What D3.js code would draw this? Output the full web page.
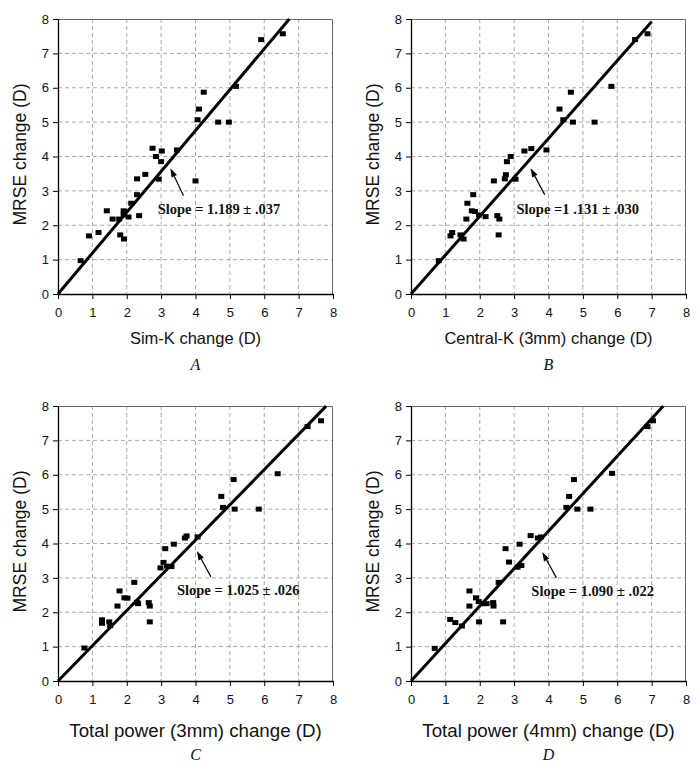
<!DOCTYPE html>
<html>
<head>
<meta charset="utf-8">
<script src="https://cdn.jsdelivr.net/npm/d3@7"></script>
<style>
  html, body { margin: 0; padding: 0; background: #fff; }
  svg { display: block; }
</style>
</head>
<body>
<svg id="chart" width="700" height="772"></svg>
<script>
// ---------------- DATA ----------------
const axisTicks = [0, 1, 2, 3, 4, 5, 6, 7, 8];
const yTitle = "MRSE change (D)";
const xTitles = ["Sim-K change (D)", "Central-K (3mm) change (D)", "Total power (3mm) change (D)", "Total power (4mm) change (D)"];
const panelLetters = ["A", "B", "C", "D"];
const slopes = [1.189, 1.131, 1.025, 1.090];
const slopeLabels = ["Slope = 1.189 \u00b1 .037", "Slope =1 .131 \u00b1 .030", "Slope = 1.025 \u00b1 .026", "Slope = 1.090 \u00b1 .022"];
const lineEndX = [6.73, 7.0, 7.8, 7.34];

// Panel A: Sim-K change vs MRSE change
const simK_x = [0.66, 0.90, 1.18, 1.42, 1.59, 1.78, 1.81, 1.92, 1.91, 1.91, 2.05, 2.13, 2.30, 2.30, 2.36, 2.54, 2.75, 2.85, 2.93, 3.00, 3.02, 3.46, 4.00, 4.06, 4.10, 4.24, 4.66, 4.97, 5.18, 5.91, 6.54];
const simK_y = [0.97, 1.69, 1.79, 2.42, 2.18, 2.18, 1.72, 1.60, 2.42, 2.30, 2.24, 2.64, 2.89, 3.35, 2.28, 3.48, 4.24, 4.00, 3.34, 3.85, 4.16, 4.19, 3.29, 5.07, 5.38, 5.87, 5.00, 5.00, 6.04, 7.40, 7.57];

// Panel B: Central-K (3mm) change vs MRSE change
const centralK_x = [0.81, 1.15, 1.20, 1.44, 1.53, 1.61, 1.64, 1.81, 1.77, 1.86, 1.98, 2.17, 2.41, 2.51, 2.57, 2.55, 2.73, 2.76, 2.79, 2.90, 3.04, 3.30, 3.50, 3.94, 4.32, 4.43, 4.65, 4.71, 5.34, 5.83, 6.52, 6.88];
const centralK_y = [0.97, 1.69, 1.79, 1.72, 1.60, 2.18, 2.64, 2.89, 2.42, 2.40, 2.30, 2.25, 3.29, 2.28, 2.18, 1.72, 3.35, 3.47, 3.85, 4.00, 3.34, 4.16, 4.23, 4.19, 5.38, 5.07, 5.87, 5.00, 5.00, 6.04, 7.40, 7.57];

// Panel C: Total power (3mm) change vs MRSE change
const totalPower3_x = [0.77, 1.28, 1.28, 1.49, 1.52, 1.73, 1.79, 1.93, 2.02, 2.22, 2.30, 2.33, 2.64, 2.67, 2.67, 2.98, 3.07, 3.12, 3.17, 3.30, 3.37, 3.69, 3.74, 4.06, 4.75, 4.80, 5.11, 5.14, 5.84, 6.39, 7.26, 7.65];
const totalPower3_y = [0.96, 1.78, 1.68, 1.72, 1.61, 2.18, 2.62, 2.42, 2.41, 2.87, 2.29, 2.25, 2.28, 2.18, 1.72, 3.29, 3.45, 3.85, 3.34, 3.33, 3.98, 4.16, 4.22, 4.19, 5.37, 5.05, 5.86, 5.00, 5.00, 6.03, 7.40, 7.57];

// Panel D: Total power (4mm) change vs MRSE change
const totalPower4_x = [0.69, 1.14, 1.29, 1.48, 1.70, 1.70, 1.89, 1.97, 1.98, 2.07, 2.20, 2.39, 2.40, 2.68, 2.55, 2.75, 2.85, 3.10, 3.21, 3.16, 3.48, 3.69, 3.78, 4.52, 4.60, 4.74, 4.84, 5.22, 5.85, 6.88, 7.04];
const totalPower4_y = [0.95, 1.79, 1.70, 1.60, 2.62, 2.18, 2.42, 2.31, 1.72, 2.25, 2.25, 2.28, 2.18, 1.72, 2.87, 3.85, 3.46, 3.31, 3.36, 3.98, 4.23, 4.16, 4.19, 5.05, 5.37, 5.86, 5.00, 5.00, 6.04, 7.40, 7.57];

const seriesX = [simK_x, centralK_x, totalPower3_x, totalPower4_x];
const seriesY = [simK_y, centralK_y, totalPower3_y, totalPower4_y];

// ---------------- LAYOUT ----------------
const W = 275, H = 275;
const lefts = [58, 411, 58, 411];
const tops = [19, 19, 406, 406];
const xTitleSize = [16.5, 16.5, 18.7, 18.7];
const xTitleOffset = [44, 44, 49.5, 49.5];
const letterOffset = [76, 76, 78.5, 78.5];
// annotation layout in data units: [tipX, tipY, tailX, tailY, textX, textBaselineY]
const annot = [
  [3.27, 3.66, 3.65, 2.86, 2.90, 2.32],
  [3.48, 3.66, 3.89, 2.89, 3.07, 2.32],
  [4.04, 3.78, 4.45, 3.03, 3.46, 2.51],
  [3.82, 3.75, 4.23, 3.00, 3.50, 2.48]
];

const svg = d3.select("#chart");

for (let p = 0; p < 4; p++) {
  const g = svg.append("g").attr("transform", `translate(${lefts[p]},${tops[p]})`);
  const x = d3.scaleLinear().domain([0, 8]).range([0, W]);
  const y = d3.scaleLinear().domain([0, 8]).range([H, 0]);

  // grid
  g.append("g").selectAll("line.gx").data(axisTicks.slice(1, -1)).join("line")
    .attr("x1", d => x(d)).attr("x2", d => x(d)).attr("y1", 0).attr("y2", H)
    .attr("stroke", "#a8a8a8").attr("stroke-width", 1).attr("stroke-dasharray", "4,3");
  g.append("g").selectAll("line.gy").data(axisTicks.slice(1, -1)).join("line")
    .attr("x1", 0).attr("x2", W).attr("y1", d => y(d)).attr("y2", d => y(d))
    .attr("stroke", "#a8a8a8").attr("stroke-width", 1).attr("stroke-dasharray", "4,3");

  // frame top/right
  g.append("path").attr("d", `M0,0.5H${W - 0.5}V${H}`).attr("fill", "none")
    .attr("stroke", "#6a6a6a").attr("stroke-width", 1);

  // axes
  const xa = g.append("g").attr("transform", `translate(0,${H})`)
    .call(d3.axisBottom(x).tickValues(axisTicks).tickSize(5).tickPadding(9).tickSizeOuter(0));
  const ya = g.append("g")
    .call(d3.axisLeft(y).tickValues(axisTicks).tickSize(5).tickPadding(4).tickSizeOuter(0));
  [xa, ya].forEach(a => {
    a.select(".domain").attr("stroke", "#000").attr("stroke-width", 1.3);
    a.selectAll(".tick line").attr("stroke", "#000");
    a.selectAll(".tick text").attr("fill", "#111")
      .style("font-family", "Arial, 'Liberation Sans', sans-serif").style("font-size", "13px");
  });

  // regression line
  g.append("line")
    .attr("x1", x(0)).attr("y1", y(0))
    .attr("x2", x(lineEndX[p])).attr("y2", y(lineEndX[p] * slopes[p]))
    .attr("stroke", "#000").attr("stroke-width", 3);

  // points
  const pts = seriesX[p].map((v, i) => ({ x: v, y: seriesY[p][i] }));
  g.append("g").selectAll("rect").data(pts).join("rect")
    .attr("x", d => x(d.x) - 3).attr("y", d => y(d.y) - 2.5)
    .attr("width", 6).attr("height", 5).attr("fill", "#000");

  // arrow
  const a = annot[p];
  const tx = x(a[0]), ty = y(a[1]), sx = x(a[2]), sy = y(a[3]);
  const ang = Math.atan2(ty - sy, tx - sx);
  const L = 9, hw = 3;
  const bx = tx - L * Math.cos(ang), by = ty - L * Math.sin(ang);
  g.append("line").attr("x1", sx).attr("y1", sy).attr("x2", bx).attr("y2", by)
    .attr("stroke", "#000").attr("stroke-width", 1.2);
  g.append("path")
    .attr("d", `M${tx},${ty}L${bx + hw * Math.sin(ang)},${by - hw * Math.cos(ang)}L${bx - hw * Math.sin(ang)},${by + hw * Math.cos(ang)}Z`)
    .attr("fill", "#000");

  // slope label
  g.append("text").attr("x", x(a[4])).attr("y", y(a[5]))
    .style("font-family", "'Times New Roman', 'Liberation Serif', serif")
    .style("font-weight", "bold").style("font-size", "14.5px").attr("fill", "#111")
    .text(slopeLabels[p]);

  // axis titles
  g.append("text").attr("x", W / 2).attr("y", H + xTitleOffset[p]).attr("dy", "0.35em")
    .attr("text-anchor", "middle")
    .style("font-family", "Arial, 'Liberation Sans', sans-serif").style("font-size", xTitleSize[p] + "px")
    .attr("fill", "#111").text(xTitles[p]);
  g.append("text").attr("transform", `translate(-38,${H / 2 - 2}) rotate(-90)`).attr("dy", "0.35em")
    .attr("text-anchor", "middle")
    .style("font-family", "Arial, 'Liberation Sans', sans-serif").style("font-size", "17.5px")
    .attr("fill", "#111").text(yTitle);

  // panel letter
  g.append("text").attr("x", W / 2).attr("y", H + letterOffset[p])
    .attr("text-anchor", "middle")
    .style("font-family", "'Times New Roman', 'Liberation Serif', serif")
    .style("font-style", "italic").style("font-size", "16px")
    .attr("fill", "#111").text(panelLetters[p]);
}
</script>
</body>
</html>
